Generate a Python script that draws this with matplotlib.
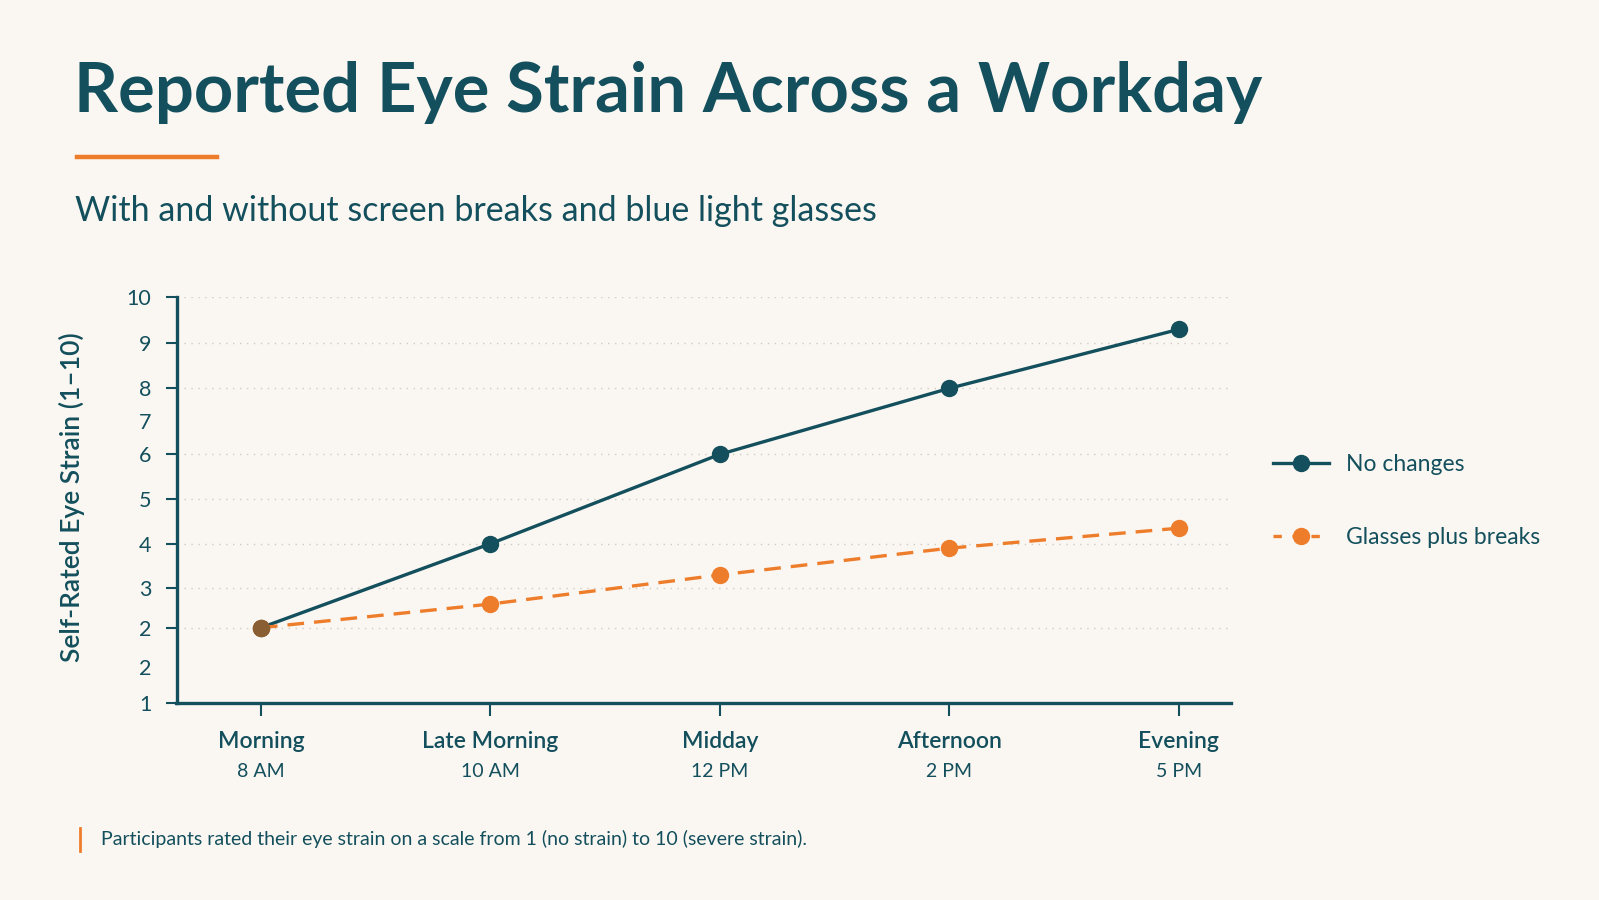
import numpy as np
import matplotlib
matplotlib.use("Agg")
import matplotlib.pyplot as plt
from matplotlib.lines import Line2D

# data
times = ["Morning", "Late Morning", "Midday", "Afternoon", "Evening"]
clock = ["8 AM", "10 AM", "12 PM", "2 PM", "5 PM"]
no_changes = [2.0, 4.0, 6.0, 8.0, 9.3]
glasses_breaks = [2.0, 2.6, 3.3, 3.9, 4.35]

# the reference axis is not evenly spaced: value -> screen row anchors
scale_vals = np.array([0.0, 1, 2, 3, 4, 5, 6, 8, 9, 10, 11])
scale_rows = np.array([778.9, 703.3, 627.7, 588.3, 543.7, 499.3, 454.3, 388.3, 343.3, 296.7, 250.1])
major_ticks = [1, 2, 3, 4, 5, 6, 8, 9, 10]
major_labels = ["1", "2", "3", "4", "5", "6", "8", "9", "10"]
extra_ticks = [1.484, 7]
extra_labels = ["2", "7"]

TEAL = "#134f5c"
ORANGE = "#ee7d2b"
BG = "#faf7f2"
FONT = "Lato"

plt.rcParams['font.family'] = [FONT, 'DejaVu Sans']

def fwd(v):
    return np.interp(v, scale_vals, -scale_rows)

def inv(p):
    return np.interp(p, -scale_rows, scale_vals)

fig = plt.figure(figsize=(15.99, 9), dpi=100, facecolor=BG)
ax = fig.add_axes([176.5 / 1599, 196.7 / 900, (1231 - 176.5) / 1599, (703.3 - 296.7) / 900])
ax.set_facecolor(BG)

x = np.arange(len(times))
ax.plot(x, no_changes, color=TEAL, lw=2.4, marker="o", ms=11.5, zorder=4, label="No changes")
ax.plot(x, glasses_breaks, color=ORANGE, lw=2.4, ls=(0, (5, 3)), marker="o", ms=11.5, zorder=5,
        label="Glasses plus breaks")
# overlapping first point shows as a blend in the reference
ax.plot(x[:1], glasses_breaks[:1], "o", ms=11.5, color="#8a5e33", zorder=6)

ax.set_yscale("function", functions=(fwd, inv))
ax.set_ylim(1, 10)
ax.set_xlim(-0.368, 4.227)

ax.set_yticks(major_ticks)
ax.set_yticklabels(major_labels)
ax.set_yticks(extra_ticks, minor=True)
ax.set_yticklabels(extra_labels, minor=True)
ax.tick_params(axis="y", which="major", length=8, width=1.5, color=TEAL, labelcolor=TEAL,
               labelsize=15.5, pad=10)
ax.tick_params(axis="y", which="minor", length=0, labelcolor=TEAL, labelsize=15.5, pad=18)
ax.yaxis.grid(True, which="major", ls=(0, (1, 4)), color="#cfcac2", lw=1)

ax.set_xticks(x)
ax.set_xticklabels([])
ax.tick_params(axis="x", length=9, width=1.5, color=TEAL)
for i in range(len(times)):
    ax.text(x[i], -0.094, times[i], transform=ax.get_xaxis_transform(), ha="center", va="center",
            fontsize=16.5, fontweight="semibold", color=TEAL)
    ax.text(x[i], -0.168, clock[i], transform=ax.get_xaxis_transform(), ha="center", va="center",
            fontsize=14, color=TEAL)

for s in ["top", "right"]:
    ax.spines[s].set_visible(False)
for s in ["left", "bottom"]:
    ax.spines[s].set_color(TEAL)
    ax.spines[s].set_linewidth(2.4)

fig.text(71.5 / 1599, 1 - 497 / 900, "Self-Rated Eye Strain (1–10)", rotation=90, ha="center",
         va="center", fontsize=19, fontweight="semibold", color=TEAL)

# title block
fig.text(74 / 1599, 1 - 92 / 900, "Reported Eye Strain Across a Workday", ha="left", va="center",
         fontsize=49.5, fontweight="bold", color=TEAL)
fig.add_artist(Line2D([77 / 1599, 217 / 1599], [1 - 157 / 900, 1 - 157 / 900], color=ORANGE, lw=3.2))
fig.text(75 / 1599, 1 - 211 / 900, "With and without screen breaks and blue light glasses",
         ha="left", va="center", fontsize=24.5, color=TEAL)

# legend
handles = [
    Line2D([], [], color=TEAL, lw=2.4, marker="o", ms=11.5),
    Line2D([], [], color=ORANGE, lw=2.4, ls=(0, (2.5, 3.2)), marker="o", ms=11.5),
]
fig.legend(handles, ["No changes", "Glasses plus breaks"], loc="center left",
           bbox_to_anchor=(1273 / 1599, 1 - 501 / 900), frameon=False, fontsize=16.5,
           labelcolor=TEAL, handlelength=2.45, handletextpad=0.75, labelspacing=2.3,
           borderpad=0, borderaxespad=0)

# footnote
fig.add_artist(Line2D([79.5 / 1599, 79.5 / 1599], [1 - 828 / 900, 1 - 851 / 900], color=ORANGE, lw=2))
fig.text(101 / 1599, 1 - 839 / 900,
         "Participants rated their eye strain on a scale from 1 (no strain) to 10 (severe strain).",
         ha="left", va="center", fontsize=14, color=TEAL)

fig.savefig("out.png", dpi=100, facecolor=BG)
